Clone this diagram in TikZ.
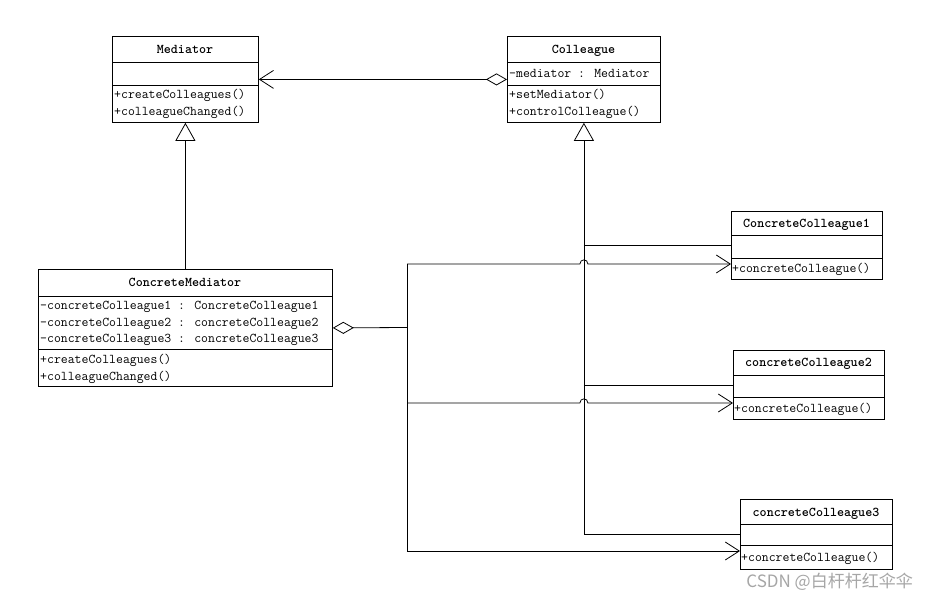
\documentclass[tikz,border=0pt]{standalone}
\usepackage{fontspec}
\newfontfamily\cjkwm{Noto Sans CJK SC}
\usetikzlibrary{arrows.meta}
\tikzset{
  barb/.tip={Straight Barb[length=14pt, width=18pt, line width=0.8pt]},
  diam/.tip={Diamond[open, length=21pt, width=12pt, line width=0.8pt]},
  tri/.tip={Triangle[open, length=18pt, width=20pt, line width=0.8pt]}
}
\begin{document}
\begin{tikzpicture}[x=1pt,y=-1pt,
  ln/.style={line width=0.8pt},
  box/.style={draw, line width=0.8pt, fill=white, rectangle, inner sep=0pt, anchor=north west},
  txt/.style={font=\fontsize{13.4}{14}\selectfont\ttfamily, inner sep=0pt, text height=11pt, text depth=2pt, anchor=west},
  ttl/.style={font=\fontsize{13.4}{14}\selectfont\ttfamily\bfseries, inner sep=0pt, text height=11pt, text depth=2pt}
]
\useasboundingbox (0,0) rectangle (929,602);
\fill[white] (0,0) rectangle (929,602);

% ---------- Mediator ----------
\node[box, minimum width=146pt, minimum height=86pt] (med) at (112,36) {};
\draw[ln] (med.west |- 0,62) -- (med.east |- 0,62);
\draw[ln] (med.west |- 0,85) -- (med.east |- 0,85);
\node[ttl] (medT) at (185,49) {Mediator};
\node[txt] (medM1) at (114,94) {+createColleagues()};
\node[txt] (medM2) at (114,111) {+colleagueChanged()};

% ---------- Colleague ----------
\node[box, minimum width=153pt, minimum height=86pt] (col) at (507,36) {};
\draw[ln] (col.west |- 0,62) -- (col.east |- 0,62);
\draw[ln] (col.west |- 0,85) -- (col.east |- 0,85);
\node[ttl] (colT) at (583.5,49) {Colleague};
\node[txt] (colA1) at (509,73) {-mediator : Mediator};
\node[txt] (colM1) at (509,94) {+setMediator()};
\node[txt] (colM2) at (509,111) {+controlColleague()};

% ---------- ConcreteMediator ----------
\node[box, minimum width=294pt, minimum height=117pt] (cm) at (38,269) {};
\draw[ln] (cm.west |- 0,296) -- (cm.east |- 0,296);
\draw[ln] (cm.west |- 0,349) -- (cm.east |- 0,349);
\node[ttl] (cmT) at (185,282) {ConcreteMediator};
\node[txt] (cmA1) at (40,305) {-concreteColleague1 : ConcreteColleague1};
\node[txt] (cmA2) at (40,321.5) {-concreteColleague2 : concreteColleague2};
\node[txt] (cmA3) at (40,338) {-concreteColleague3 : concreteColleague3};
\node[txt] (cmM1) at (40,358.5) {+createColleagues()};
\node[txt] (cmM2) at (40,376) {+colleagueChanged()};

% ---------- ConcreteColleague1 ----------
\node[box, minimum width=151pt, minimum height=68pt] (cc1) at (731,211) {};
\draw[ln] (cc1.west |- 0,235) -- (cc1.east |- 0,235);
\draw[ln] (cc1.west |- 0,258) -- (cc1.east |- 0,258);
\node[ttl] (cc1T) at (806.5,222.5) {ConcreteColleague1};
\node[txt] (cc1M) at (732,268) {+concreteColleague()};

% ---------- concreteColleague2 ----------
\node[box, minimum width=151pt, minimum height=69pt] (cc2) at (733,350) {};
\draw[ln] (cc2.west |- 0,375) -- (cc2.east |- 0,375);
\draw[ln] (cc2.west |- 0,397) -- (cc2.east |- 0,397);
\node[ttl] (cc2T) at (808.5,362) {concreteColleague2};
\node[txt] (cc2M) at (734,407.5) {+concreteColleague()};

% ---------- concreteColleague3 ----------
\node[box, minimum width=152pt, minimum height=70pt] (cc3) at (740,499) {};
\draw[ln] (cc3.west |- 0,524) -- (cc3.east |- 0,524);
\draw[ln] (cc3.west |- 0,545) -- (cc3.east |- 0,545);
\node[ttl] (cc3T) at (816,511.5) {concreteColleague3};
\node[txt] (cc3M) at (741,557) {+concreteColleague()};

% ---------- Connectors ----------
% Colleague aggregates Mediator
\draw[ln, diam-barb] (col.west) -- (med.east);

% Generalization ConcreteMediator -> Mediator
\draw[ln, tri-] (med.south) -- (cm.north);

% Generalization tree to Colleague
\draw[ln, tri-] (col.south) |- (cc3.west);
\draw[ln] (col.south |- cc1.west) -- (cc1.west);
\draw[ln] (col.south |- cc2.west) -- (cc2.west);

% Aggregation from ConcreteMediator
\coordinate (hub) at (407,327.5);
\coordinate (r1) at (407,264);
\coordinate (r2) at (407,403);
\coordinate (r3) at (407,551);
\coordinate (j1) at (col.south |- r1);
\coordinate (j2) at (col.south |- r2);
\draw[ln, diam-] (cm.east) -- (hub);
\draw[ln] (r1) -- (r3);
\draw[ln, -barb] (r1) -- ([xshift=-4pt]j1)
  .. controls ([xshift=-4pt,yshift=5.5pt]j1) and ([xshift=4pt,yshift=5.5pt]j1) .. ([xshift=4pt]j1)
  -- (r1 -| cc1.west);
\draw[ln, -barb] (r2) -- ([xshift=-4pt]j2)
  .. controls ([xshift=-4pt,yshift=5.5pt]j2) and ([xshift=4pt,yshift=5.5pt]j2) .. ([xshift=4pt]j2)
  -- (r2 -| cc2.west);
\draw[ln, -barb] (r3) -- (r3 -| cc3.west);

% Watermark
\node[anchor=east, inner sep=0pt, font=\cjkwm\fontsize{17}{17}\selectfont, text=black!35] (wm) at (913,582) {CSDN @白杆杆红伞伞};
\end{tikzpicture}
\end{document}
